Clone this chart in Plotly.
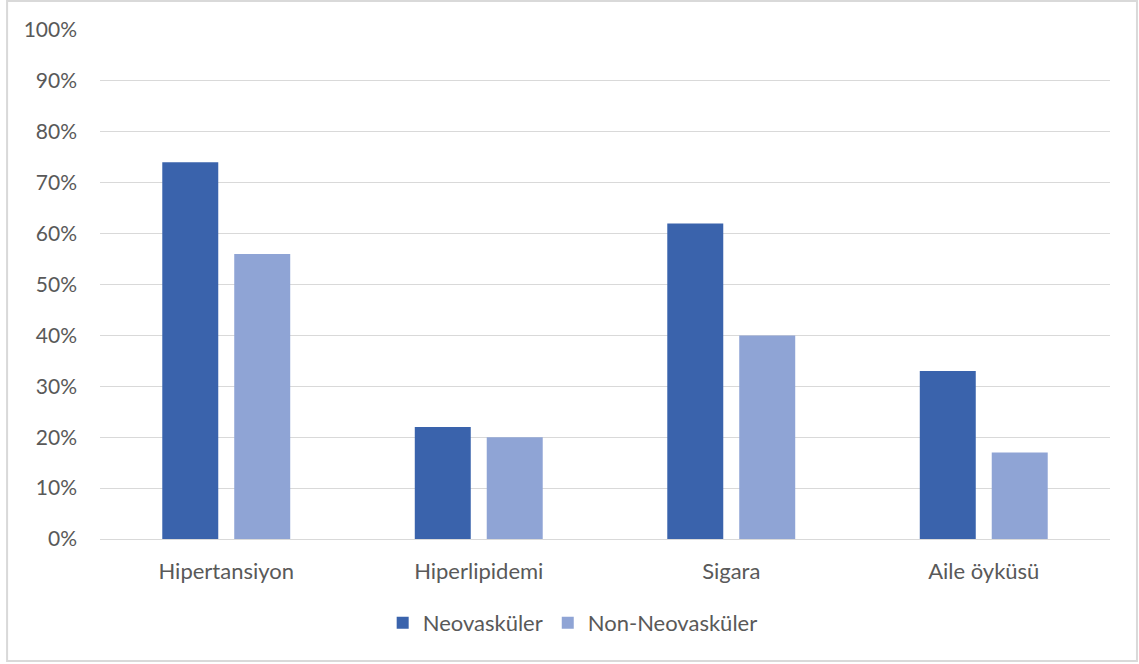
import plotly.graph_objects as go

categories = ["Hipertansiyon", "Hiperlipidemi", "Sigara", "Aile öyküsü"]
neovaskuler = [74, 22, 62, 33]
non_neovaskuler = [56, 20, 40, 17]
tick_values = [0, 10, 20, 30, 40, 50, 60, 70, 80, 90, 100]
tick_labels = [f"{v}%" for v in tick_values]

FONT = "Lato, Open Sans, sans-serif"
TEXT = "#595959"
GRID = "#D9D9D9"

fig = go.Figure()
fig.add_trace(go.Bar(name="Neovasküler", x=categories, y=neovaskuler,
                     marker=dict(color="#3A63AC", line=dict(width=0))))
fig.add_trace(go.Bar(name="Non-Neovasküler", x=categories, y=non_neovaskuler,
                     marker=dict(color="#8FA4D5", line=dict(width=0))))

fig.update_layout(
    width=1139, height=664,
    margin=dict(l=100, r=29, t=30, b=125),
    paper_bgcolor="white", plot_bgcolor="white",
    barmode="group", bargap=0.43, bargroupgap=0.222,
    font=dict(family=FONT, color=TEXT, size=21),
    showlegend=True,
    legend=dict(orientation="h", x=0.468, xanchor="center", y=-0.165, yanchor="middle",
                font=dict(size=22, color=TEXT), itemwidth=30, traceorder="normal"),
    xaxis=dict(showgrid=False, showline=True, linecolor=GRID, linewidth=1,
               ticks="", ticklabelstandoff=13, tickfont=dict(size=22, color=TEXT)),
    yaxis=dict(range=[0, 100], tickvals=tick_values, ticktext=tick_labels,
               showgrid=True, gridcolor=GRID, gridwidth=1, zeroline=False,
               showline=False, ticks="", ticklabelstandoff=22,
               tickfont=dict(size=21, color=TEXT)),
    shapes=[dict(type="rect", xref="paper", yref="paper",
                 x0=-0.092, x1=1.0267, y0=-0.2397, y1=1.057,
                 line=dict(color=GRID, width=2), fillcolor="rgba(0,0,0,0)",
                 layer="below")],
)

fig.write_html("out.html")
